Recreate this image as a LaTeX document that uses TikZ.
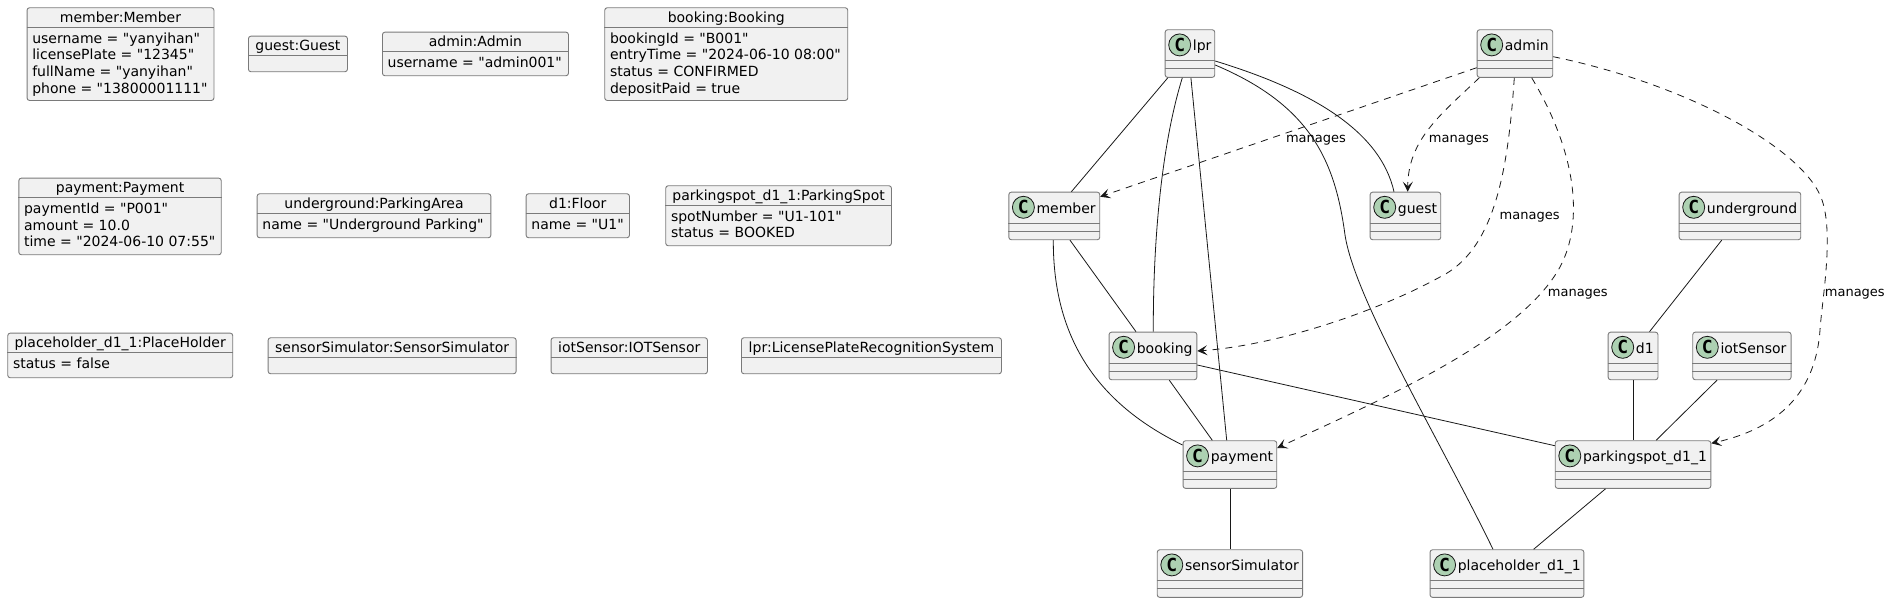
\documentclass[tikz,border=0pt]{standalone}
\usepackage{fontspec}
\setmainfont{DejaVu Sans}[Ligatures=TeXOff]
\newfontfamily\circfont{DejaVu Sans Mono}
\usetikzlibrary{arrows.meta}
\definecolor{boxfill}{HTML}{F1F1F1}
\definecolor{ink}{HTML}{181818}
\definecolor{circfill}{HTML}{ADD1B2}
\definecolor{border}{HTML}{7A7A7A}
\tikzset{
  obj/.style={draw=border, line width=0.9pt, fill=boxfill, rounded corners=2.5pt, inner sep=0pt, anchor=north west},
  sepline/.style={draw=border, line width=0.9pt},
  circ/.style={circle, draw=ink, line width=0.8pt, fill=circfill, minimum size=22pt, inner sep=0pt, font=\circfont\bfseries\fontsize{18}{18}\selectfont},
  txt/.style={inner sep=0pt, font=\fontsize{14}{16}\selectfont},
  lbl/.style={inner sep=0pt, font=\fontsize{13}{15}\selectfont, anchor=base},
  assoc/.style={draw=ink, line width=0.8pt},
  dep/.style={draw=ink, line width=0.8pt, dash pattern=on 7pt off 6pt, -{Stealth[length=10pt,width=10pt,inset=4.5pt]}}
}
\newcommand\objbox[6]{%
  \node[obj, minimum width=#4pt, minimum height=#5pt] (#1) at (#2,#3) {};
  \draw[sepline] ([yshift=-20pt]#1.north west) -- ([yshift=-20pt]#1.north east);
  \node[txt, anchor=base] (#1-title) at ([yshift=-15pt]#1.north) {#6};
}
\newcommand\objfields[4]{%
  \foreach \fld [count=\i] in {#4}
    \node[txt, anchor=base west] (#1-f\i) at (#2+5.5, #3+36+16.6*\i-16.6) {\fld};
}
\newcommand\umlclass[5]{%
  \node[obj, minimum width=#4pt, minimum height=47.6pt] (#1) at (#2,#3) {};
  \draw[sepline] ([yshift=-31.6pt]#1.north west) -- ([yshift=-31.6pt]#1.north east);
  \draw[sepline] ([yshift=-39.6pt]#1.north west) -- ([yshift=-39.6pt]#1.north east);
  \node[circ] (#1-c) at ([xshift=15pt,yshift=-15.6pt]#1.north west) {C};
  \node[txt, anchor=base west] (#1-t) at ([xshift=28pt,yshift=-21.5pt]#1.north west) {#5};
}
\begin{document}
\begin{tikzpicture}[x=1pt, y=-1pt]
\useasboundingbox (0,0) rectangle (1891,603);

% ---------- object boxes ----------
\objbox{oMember}{26.6}{7.3}{186.9}{92.7}{member:Member}
\objfields{oMember}{26.6}{7.3}{{username = "yanyihan"},{licensePlate = "12345"},{fullName = "yanyihan"},{phone = "13800001111"}}
\objbox{oGuest}{248}{35.7}{99}{35.6}{guest:Guest}
\objbox{oAdmin}{382}{31.7}{186}{43.6}{admin:Admin}
\objfields{oAdmin}{382}{31.7}{{username = "admin001"}}
\objbox{oBooking}{604.3}{7.3}{243}{92.7}{booking:Booking}
\objfields{oBooking}{604.3}{7.3}{{bookingId = "B001"},{entryTime = "2024-06-10 08:00"},{status = CONFIRMED},{depositPaid = true}}

\objbox{oPayment}{18.4}{177.7}{202.4}{76.6}{payment:Payment}
\objfields{oPayment}{18.4}{177.7}{{paymentId = "P001"},{amount = 10.0},{time = "2024-06-10 07:55"}}
\objbox{oUnderground}{256.7}{193.3}{233.7}{44}{underground:ParkingArea}
\objfields{oUnderground}{256.7}{193.3}{{name = "Underground Parking"}}
\objbox{oD1}{525.7}{193.3}{103.3}{44}{d1:Floor}
\objfields{oD1}{525.7}{193.3}{{name = "U1"}}
\objbox{oSpot}{665.3}{185.3}{225.7}{60}{parkingspot\_d1\_1:ParkingSpot}
\objfields{oSpot}{665.3}{185.3}{{spotNumber = "U1-101"},{status = BOOKED}}

\objbox{oHolder}{7.3}{332.7}{225}{44.6}{placeholder\_d1\_1:PlaceHolder}
\objfields{oHolder}{7.3}{332.7}{{status = false}}
\objbox{oSensor}{267.7}{337.3}{248}{36}{sensorSimulator:SensorSimulator}
\objbox{oIot}{550.6}{337.3}{156.4}{36}{iotSensor:IOTSensor}
\objbox{oLpr}{741}{337.3}{260}{36}{lpr:LicensePlateRecognitionSystem}

% ---------- class boxes ----------
\umlclass{lpr}{1164.7}{29.3}{49.6}{lpr}
\umlclass{admin}{1476.7}{29.3}{75.6}{admin}
\umlclass{member}{1008.4}{191.7}{90.9}{member}
\umlclass{guest}{1369.7}{191.7}{70.6}{guest}
\umlclass{underground}{1678.7}{191.7}{121.6}{underground}
\umlclass{booking}{1108.6}{331.7}{87.8}{booking}
\umlclass{d1}{1607.7}{331.7}{49.8}{d1}
\umlclass{iotSensor}{1692.3}{331.7}{98.3}{iotSensor}
\umlclass{payment}{1182.6}{440.3}{93.7}{payment}
\umlclass{parkingspot}{1554.8}{440.3}{155.6}{parkingspot\_d1\_1}
\umlclass{sensorSimulator}{1156.8}{549.3}{145.3}{sensorSimulator}
\umlclass{placeholder}{1429.6}{549.3}{153.8}{placeholder\_d1\_1}

% ---------- associations ----------
\draw[assoc] ([xshift=3.1pt]lpr.south west) -- ([xshift=63pt]member.north west);
\draw[assoc] ([xshift=17.6pt]lpr.south west) .. controls (1160,150) and (1153,250) .. ([xshift=44.7pt]booking.north west);
\draw[assoc] ([xshift=26.2pt]lpr.south west) -- ([xshift=44.1pt]payment.north west);
\draw[assoc] ([yshift=-35.7pt]lpr.north east) .. controls (1310,105) and (1335,160) .. (1345,235) .. controls (1355,300) and (1440,440) .. ([xshift=63.4pt]placeholder.north west);
\draw[assoc] ([yshift=-31.7pt]lpr.north east) .. controls (1310,90) and (1380,130) .. ([xshift=24.3pt]guest.north west);
\draw[assoc] ([xshift=61.6pt]member.south west) -- ([xshift=27.4pt]booking.north west);
\draw[assoc] ([xshift=44.9pt]member.south west) .. controls (1053,330) and (1090,400) .. ([yshift=-4.7pt]payment.north west);
\draw[assoc] ([xshift=60.7pt]booking.south west) -- ([xshift=29.7pt]payment.north west);
\draw[assoc] ([yshift=-33.3pt]booking.north east) -- ([yshift=-5.4pt]parkingspot.north west);
\draw[assoc] (payment.south) -- (sensorSimulator.north);
\draw[assoc] ([xshift=43pt]underground.south west) -- ([xshift=41.8pt]d1.north west);
\draw[assoc] (d1.south) -- (d1.south |- parkingspot.north);
\draw[assoc] ([xshift=24.7pt]iotSensor.south west) -- ([xshift=101.3pt]parkingspot.north west);
\draw[assoc] ([xshift=50.7pt]parkingspot.south west) -- ([xshift=104pt]placeholder.north west);

% ---------- dependencies ----------
\draw[dep] ([yshift=-38.4pt]admin.north west) -- ([yshift=-5pt]member.north east);
\draw[dep] ([xshift=2.6pt]admin.south west) .. controls (1440,115) and (1408,140) .. ([xshift=38pt]guest.north west);
\draw[dep] ([xshift=37.6pt]admin.south west) .. controls (1508,170) and (1495,250) .. (1440,277) .. controls (1380,310) and (1280,345) .. ([yshift=-19.3pt]booking.north east);
\draw[dep] ([xshift=55pt]admin.south west) .. controls (1575,150) and (1585,220) .. (1560,267) .. controls (1520,340) and (1380,400) .. ([yshift=-7.7pt]payment.north east);
\draw[dep] ([yshift=-27.4pt]admin.north east) .. controls (1690,85) and (1805,150) .. (1822,200) .. controls (1834,235) and (1822,300) .. (1820,330) .. controls (1815,400) and (1770,430) .. ([yshift=-3pt]parkingspot.north east);

\node[lbl] (lblMember) at (1316,142.3) {manages};
\node[lbl] (lblGuest) at (1458.9,142.3) {manages};
\node[lbl] (lblBooking) at (1529.6,219.7) {manages};
\node[lbl] (lblPayment) at (1577.8,296.7) {manages};
\node[lbl] (lblSpot) at (1854.8,296.7) {manages};
\end{tikzpicture}
\end{document}
